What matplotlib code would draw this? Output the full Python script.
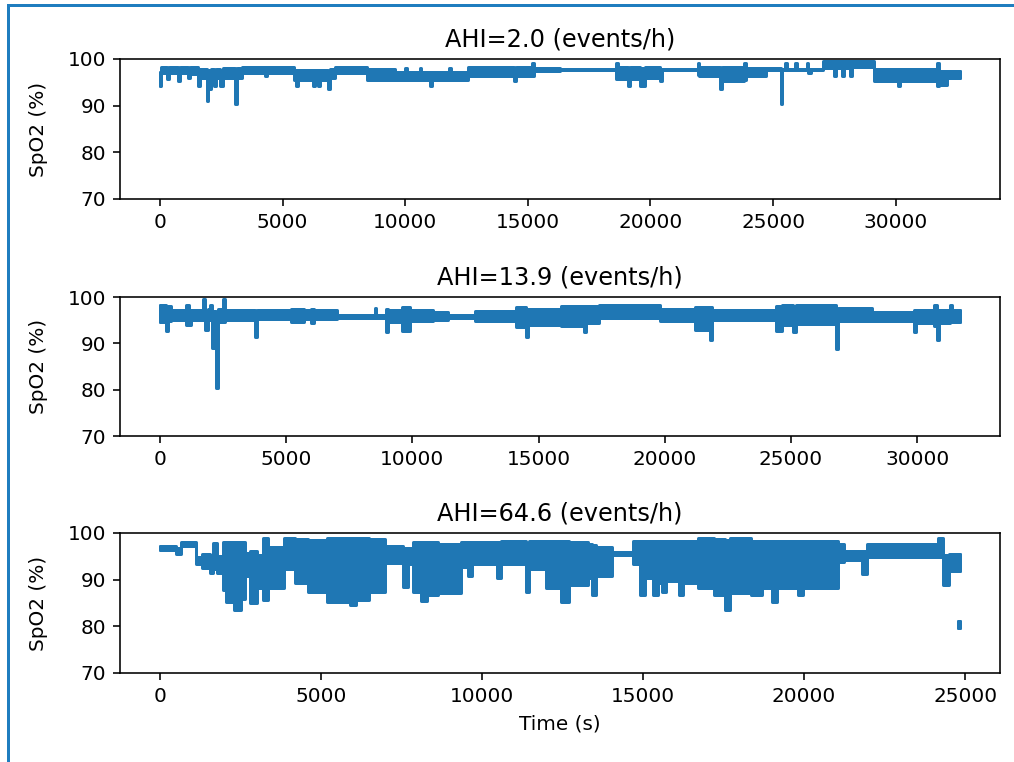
import numpy as np
import matplotlib
matplotlib.use("Agg")
import matplotlib.pyplot as plt
from matplotlib.lines import Line2D

# ---------------- data (upper / lower SpO2 envelope per time bin) ----------------
titles = ["AHI=2.0 (events/h)", "AHI=13.9 (events/h)", "AHI=64.6 (events/h)"]

# Panel 1 : bin edges (s); upper and lower SpO2 (%) inside each bin
t1 = [0, 60, 300, 360, 750, 830, 1150, 1220, 1550, 1640, 1900, 1970, 2060, 2200, 2280,
      2450, 2560, 3050, 3120, 3350, 4300, 4360, 5450, 5560, 5640, 6250, 6330, 6450,
      6540, 6850, 6930, 7150, 8450, 9600, 10000, 10060, 10600, 10660, 11000, 11080,
      11800, 11860, 12550, 14450, 14530, 15150, 15230, 16300, 18600, 18680, 19100,
      19180, 19580, 19780, 20400, 20480, 21920, 21990, 22830, 22910, 23800, 23880,
      24700, 25320, 25380, 25500, 25560, 25900, 25960, 26380, 26440, 26560, 27050,
      27500, 27580, 27800, 27880, 28150, 28230, 29100, 30100, 30180, 31680, 31760,
      32100, 32620]
hi1 = [97.2, 98.2, 98.0, 98.2, 98.0, 98.2, 98.0, 98.2, 97.9, 97.9, 97.6, 97.6, 97.9, 97.7,
       97.9, 97.7, 98.0, 97.5, 98.0, 98.2, 98.2, 98.2, 97.6, 97.6, 97.6, 97.6, 97.6,
       97.6, 97.6, 97.5, 97.8, 98.2, 97.9, 97.2, 98.0, 97.2, 98.0, 97.2, 97.2,
       97.3, 98.0, 97.3, 98.2, 98.1, 98.2, 99.1, 98.0, 97.9, 99.1, 98.2,
       98.0, 98.2, 98.0, 98.2, 97.8, 97.9, 99.1, 98.2, 98.0, 98.2, 99.1,
       98.1, 98.0, 97.9, 97.9, 99.1, 97.9, 99.1, 97.9, 99.1, 97.9, 97.9,
       99.6, 99.6, 99.6, 99.6, 99.6, 99.6, 99.6, 97.9, 97.8, 97.9, 99.1,
       97.5, 97.5]
lo1 = [94.3, 96.9, 95.8, 96.9, 95.3, 96.9, 96.0, 96.8, 94.3, 95.9, 91.0, 93.6, 96.0, 94.3,
       95.9, 94.3, 96.0, 90.4, 96.0, 97.1, 96.4, 97.1, 95.4, 94.3, 95.6, 94.3, 95.6,
       94.3, 95.6, 93.5, 96.0, 97.0, 95.5, 95.4, 95.4, 95.4, 95.4, 95.4, 94.2,
       95.4, 95.4, 95.4, 96.3, 95.2, 96.3, 96.3, 97.4, 97.7, 95.8, 95.7,
       94.3, 95.7, 94.3, 96.0, 95.3, 97.7, 96.5, 96.4, 93.6, 95.2, 95.4,
       96.4, 97.6, 90.4, 97.7, 97.7, 97.7, 97.7, 97.7, 97.7, 96.9, 97.7,
       98.1, 96.4, 98.1, 96.4, 98.1, 96.4, 98.2, 95.3, 94.3, 95.3, 94.3,
       94.5, 96.0]

# Panel 2
t2 = [0, 250, 330, 450, 1050, 1150, 1220, 1700, 1780, 1900, 1980, 2080, 2200, 2280,
      2500, 2580, 3780, 3860, 5200, 5700, 6000, 6100, 7000, 8500, 8560, 8950, 9050,
      9600, 9900, 10800, 11400, 12500, 14100, 14500, 14600, 15900, 16800, 16900,
      17400, 19800, 21200, 21780, 21860, 24400, 24650, 25100, 25220, 26780, 26860,
      28200, 29880, 29960, 30650, 30780, 30860, 31300, 31380, 31700]
hi2 = [98.2, 98.0, 98.0, 97.3, 98.2, 97.3, 97.3, 99.5, 97.3, 97.4, 98.2, 97.0, 96.5, 97.4,
       99.5, 97.3, 97.0, 97.1, 97.5, 97.1, 97.4, 97.1, 96.2, 97.6, 96.2, 97.5, 97.3,
       97.8, 97.3, 96.8, 96.1, 97.0, 97.9, 97.4, 97.5, 98.1, 98.0, 98.1,
       98.2, 97.5, 97.9, 97.9, 97.3, 98.0, 98.2, 98.0, 98.2, 97.5, 97.7,
       96.8, 97.2, 97.1, 98.2, 97.3, 97.2, 98.2, 97.3]
lo2 = [94.6, 92.6, 94.8, 95.0, 94.0, 93.9, 95.0, 95.0, 92.8, 95.0, 95.0, 89.0, 80.4, 94.5,
       94.5, 95.0, 91.4, 95.2, 94.6, 95.2, 94.3, 95.2, 95.5, 95.5, 95.5, 92.5, 94.6,
       92.6, 94.8, 95.1, 95.4, 94.9, 93.6, 91.4, 94.0, 93.8, 92.5, 94.4,
       95.5, 94.8, 92.8, 90.7, 95.0, 92.6, 94.0, 92.5, 94.2, 88.7, 94.8,
       94.8, 92.5, 94.4, 93.8, 90.7, 94.4, 94.5, 94.5]

# Panel 3
t3 = [0, 500, 650, 1120, 1300, 1550, 1650, 1760, 1950, 2050, 2300, 2500, 2650, 2800,
      3000, 3200, 3350, 3850, 4200, 4600, 5200, 5900, 6100, 6500, 7000, 7550, 7700,
      7850, 8100, 8300, 8620, 9350, 9550, 9700, 10450, 10600, 11350, 11450, 12000,
      12450, 12700, 13280, 13400, 13550, 14050, 14700, 14900, 15050, 15300, 15450,
      15600, 15700, 16100, 16250, 16700, 17200, 17550, 17700, 18350, 18700, 19000,
      19150, 19800, 19950, 21050, 21250, 21800, 21950, 24150, 24300, 24500, 24840]
hi3 = [97.2, 96.8, 98.1, 94.8, 95.4, 95.2, 97.9, 95.1, 98.1, 98.1, 98.1, 98.1, 95.7, 96.2,
       95.2, 99.0, 97.0, 99.0, 98.7, 98.5, 98.9, 98.9, 98.9, 98.7, 97.2, 96.7, 96.7,
       98.1, 98.1, 98.1, 97.7, 98.0, 98.0, 98.1, 98.0, 98.2, 97.9, 98.3, 98.3,
       98.3, 98.1, 97.7, 97.5, 96.9, 96.0, 98.2, 98.2, 98.3, 98.3, 98.3,
       98.3, 98.3, 98.3, 98.3, 98.9, 98.7, 98.5, 98.9, 98.3, 98.3, 98.3,
       98.3, 98.3, 98.3, 97.7, 96.1, 96.1, 97.6, 99.0, 95.2, 95.4]
lo3 = [96.3, 95.6, 97.3, 93.4, 92.6, 91.4, 92.3, 91.4, 87.8, 85.3, 83.6, 85.8, 90.8, 84.9,
       88.3, 85.7, 88.3, 92.3, 89.3, 87.3, 85.3, 84.6, 85.6, 87.3, 93.5, 88.5, 93.3,
       87.3, 85.5, 86.8, 87.1, 92.8, 90.7, 93.3, 90.3, 93.3, 87.4, 92.3, 88.3,
       85.3, 88.8, 90.3, 86.7, 90.7, 95.3, 93.3, 86.7, 90.3, 86.8, 89.3,
       87.3, 89.8, 86.7, 89.3, 88.3, 86.8, 83.5, 87.1, 86.7, 88.3, 85.3,
       88.3, 86.7, 88.3, 93.8, 94.3, 91.3, 94.9, 94.8, 88.9, 91.8]
# short separate fragment at the end of panel 3
t3_tail = [24790, 24840]
hi3_tail = [81.2]
lo3_tail = [79.6]

y_ticks = [70, 80, 90, 100]

# ---------------- figure ----------------
DPI = 144
fig = plt.figure(figsize=(1014 / DPI, 762 / DPI), dpi=DPI)
C = "#1f77b4"

W, H = 1014, 762
left, right = 120, 1000
boxes = [(59, 199), (297, 436), (533, 673)]

panels = [
    [(t1, hi1, lo1)],
    [(t2, hi2, lo2)],
    [(t3, hi3, lo3), (t3_tail, hi3_tail, lo3_tail)],
]


def draw_band(ax, tt, hh, ll):
    tt = np.asarray(tt, float)
    hh = np.append(hh, hh[-1])
    ll = np.append(ll, ll[-1])
    ax.fill_between(tt, ll, hh, step="post", color=C, linewidth=0)
    for yy in (hh, ll):
        ax.plot(tt, yy, drawstyle="steps-post", color=C, linewidth=1.5,
                solid_joinstyle="round", solid_capstyle="round")
    ax.plot([tt[0], tt[0]], [ll[0], hh[0]], color=C, linewidth=1.5,
            solid_capstyle="round")
    ax.plot([tt[-1], tt[-1]], [ll[-1], hh[-1]], color=C, linewidth=1.5,
            solid_capstyle="round")


axes = []
for i, ((top, bot), segs) in enumerate(zip(boxes, panels)):
    ax = fig.add_axes([left / W, 1 - bot / H, (right - left) / W, (bot - top) / H])
    for (tt, hh, ll) in segs:
        draw_band(ax, tt, hh, ll)
    tmax = segs[0][0][-1]
    ax.set_xlim(-0.05 * tmax, 1.05 * tmax)
    ax.set_ylim(70, 100)
    ax.set_yticks(y_ticks)
    ax.set_ylabel("SpO2 (%)", labelpad=10)
    ax.set_title(titles[i])
    axes.append(ax)

axes[-1].set_xlabel("Time (s)")

# blue frame around the picture (left and top edges)
border = "#1f7dbf"
fig.add_artist(Line2D([7.5 / W, 7.5 / W], [0, 1 - 5 / H], transform=fig.transFigure,
                      color=border, linewidth=1.5))
fig.add_artist(Line2D([7.5 / W, 1], [1 - 5 / H, 1 - 5 / H], transform=fig.transFigure,
                      color=border, linewidth=1.5))

fig.savefig("out.png", dpi=DPI)
